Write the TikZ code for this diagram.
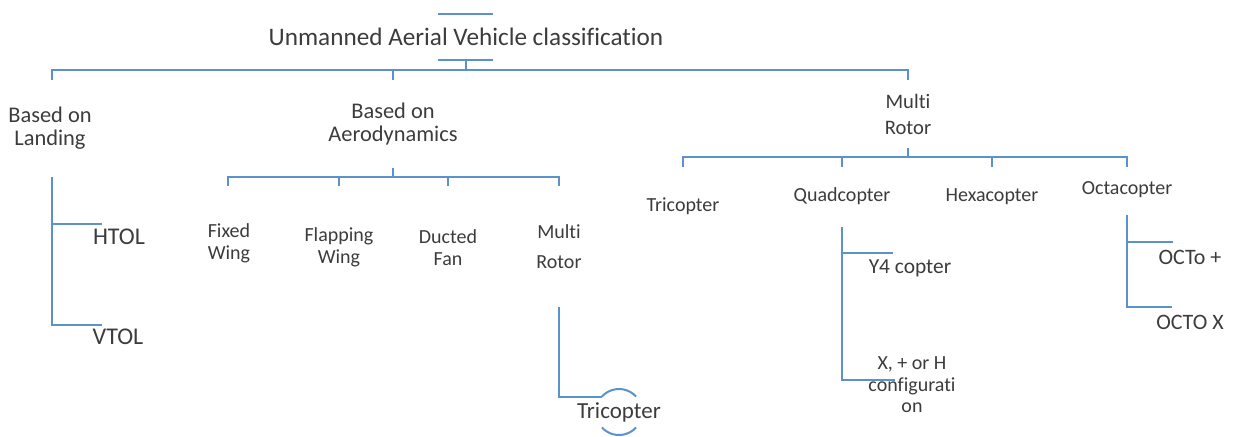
\documentclass[tikz,border=0pt]{standalone}
\usepackage{fontspec}
\setmainfont{Carlito}[Ligatures=NoCommon]
\usetikzlibrary{positioning}
\definecolor{linkblue}{RGB}{91,146,204}
\definecolor{labgrey}{RGB}{60,60,60}
\tikzset{
  link/.style={draw=linkblue, line width=1pt},
  lab/.style={text=labgrey, align=center, inner sep=0pt},
  big/.style={lab, font=\fontsize{12.6}{14}\selectfont},
  head/.style={lab, font=\fontsize{11.2}{11.5}\selectfont},
  sub/.style={lab, font=\fontsize{10}{11}\selectfont},
  leaf/.style={lab, font=\fontsize{12}{14}\selectfont},
}

\begin{document}
\begin{tikzpicture}[x=0.5pt, y=-0.5pt]
	\useasboundingbox (0,0) rectangle (1236,436);
	
	% root
	\node[big] (uav) at (466,37) {Unmanned Aerial Vehicle classification};
	\coordinate (uav-tl) at (438,14);
	\coordinate (uav-tr) at (493,14);
	\coordinate (uav-bl) at (438,60);
	\coordinate (uav-br) at (493,60);
	\coordinate (uav-out) at (466,60);
	\coordinate (rootbar) at (466,70);
	\draw[link] (uav-tl) -- (uav-tr);
	\draw[link] (uav-bl) -- (uav-br);
	\draw[link] (uav-out) -- (rootbar);
	
	% first level
	\node[head] (landing) at (50,128) {Based on\\Landing};
	\node[head] (aero) at (393,124) {Based on\\Aerodynamics};
	\node[sub, font=\fontsize{10.3}{13}\selectfont] (multi) at (908,114) {Multi\\Rotor};
	\coordinate (landing-in) at (52,80);
	\coordinate (aero-in) at (393,80);
	\coordinate (multi-in) at (908,80);
	\draw[link] (landing-in) -- (landing-in |- rootbar) -- (multi-in |- rootbar) -- (multi-in);
	\draw[link] (aero-in) -- (aero-in |- rootbar);
	
	% based on landing
	\node[leaf] (htol) at (119,237) {HTOL};
	\node[leaf] (vtol) at (118,337) {VTOL};
	\coordinate (landing-out) at (52,177);
	\coordinate (htol-in) at (102,224);
	\coordinate (vtol-in) at (102,325);
	\draw[link] (landing-out) |- (htol-in);
	\draw[link] (landing-out) |- (vtol-in);
	
	% based on aerodynamics
	\node[sub] (fixed) at (229,243) {Fixed\\Wing};
	\node[sub] (flap) at (339,247) {Flapping\\Wing};
	\node[sub] (ducted) at (448,248) {Ducted\\Fan};
	\node[sub, font=\fontsize{10}{15}\selectfont] (rotor) at (559,247) {Multi\\Rotor};
	\coordinate (aero-out) at (393,168);
	\coordinate (aero-bar) at (393,177);
	\coordinate (fixed-in) at (228,186);
	\coordinate (flap-in) at (339,186);
	\coordinate (ducted-in) at (448,186);
	\coordinate (rotor-in) at (559,186);
	\draw[link] (aero-out) -- (aero-bar);
	\draw[link] (fixed-in) |- (rotor-in |- aero-bar) -- (rotor-in);
	\foreach \kid in {flap-in, ducted-in}
		\draw[link] (\kid) -- (\kid |- aero-bar);
	
	\node[lab, font=\fontsize{11.5}{13}\selectfont] (tri) at (619,412) {Tricopter};
	\coordinate (rotor-out) at (559,307);
	\coordinate (tri-in) at (602,397);
	\draw[link] (rotor-out) |- (tri-in);
	\draw[link] ([shift={(138:11.5pt)}]tri.center) arc (138:42:11.5pt);
	\draw[link] ([shift={(222:11.5pt)}]tri.center) arc (222:318:11.5pt);
	
	% multi rotor
	\node[sub] (tricop) at (683,206) {Tricopter};
	\node[sub] (quad) at (842,196) {Quadcopter};
	\node[sub] (hexa) at (992,197) {Hexacopter};
	\node[sub] (octa) at (1127,190) {Octacopter};
	\coordinate (multi-out) at (908,148);
	\coordinate (multi-bar) at (908,157);
	\coordinate (tricop-in) at (683,167);
	\coordinate (quad-in) at (842,167);
	\coordinate (hexa-in) at (992,167);
	\coordinate (octa-in) at (1127,167);
	\draw[link] (multi-out) -- (multi-bar);
	\draw[link] (tricop-in) |- (octa-in |- multi-bar) -- (octa-in);
	\foreach \kid in {quad-in, hexa-in}
		\draw[link] (\kid) -- (\kid |- multi-bar);
	
	% quadcopter
	\node[lab, font=\fontsize{10.7}{12}\selectfont] (y4) at (910,268) {Y4 copter};
	\node[sub, font=\fontsize{10}{10.8}\selectfont] (xh) at (912,385) {X, + or H\\configurati\\on};
	\coordinate (quad-out) at (842,227);
	\coordinate (y4-in) at (893,253);
	\coordinate (xh-in) at (895,380);
	\draw[link] (quad-out) |- (y4-in);
	\draw[link] (quad-out) |- (xh-in);
	
	% octacopter
	\node[lab, font=\fontsize{11}{12}\selectfont] (octp) at (1190,257) {OCTo +};
	\node[lab, font=\fontsize{11}{12}\selectfont] (octx) at (1190,322) {OCTO X};
	\coordinate (octa-out) at (1127,215);
	\coordinate (octp-in) at (1173,242);
	\coordinate (octx-in) at (1172,307);
	\draw[link] (octa-out) |- (octp-in);
	\draw[link] (octa-out) |- (octx-in);
\end{tikzpicture}
\end{document}
